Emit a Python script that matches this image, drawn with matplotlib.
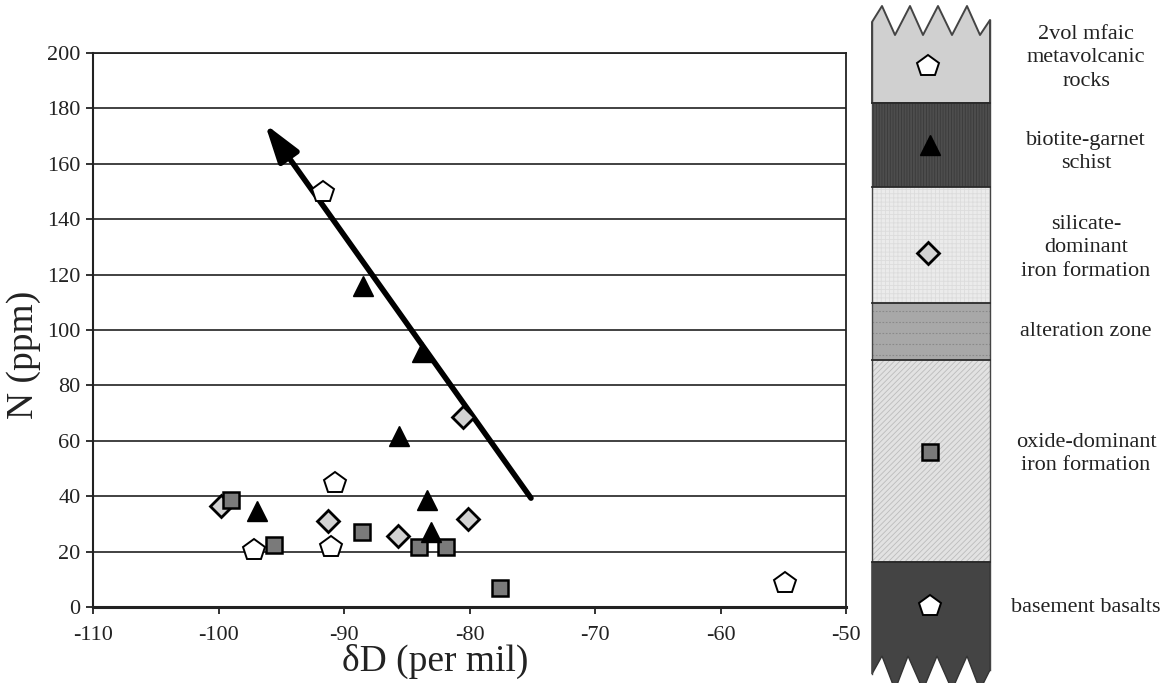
import matplotlib
matplotlib.use("Agg")
import matplotlib.pyplot as plt
from matplotlib.patches import Polygon, Rectangle

plt.rcParams['font.family'] = ['Liberation Serif', 'DejaVu Serif']
plt.rcParams['hatch.linewidth'] = 0.6

# ---------------- data ----------------
metavolc_x = [-91.7, -90.7, -97.2, -91.0]
metavolc_y = [150.0, 44.6, 20.5, 21.5]
basement_x = [-54.9]
basement_y = [8.6]
biotite_x = [-88.5, -83.8, -85.6, -83.4, -96.9, -83.1]
biotite_y = [116.0, 92.0, 61.6, 38.8, 34.7, 27.1]
silicate_x = [-80.5, -99.8, -91.3, -80.1, -85.7]
silicate_y = [68.6, 36.5, 31.0, 31.6, 25.7]
oxide_x = [-99.0, -88.6, -95.6, -84.0, -81.9, -77.6]
oxide_y = [38.8, 26.9, 22.3, 21.7, 21.5, 6.7]
trend_start = (-75.1, 39.3)
trend_end = (-96.3, 174.4)

x_ticks = [-110, -100, -90, -80, -70, -60, -50]
y_ticks = [0, 20, 40, 60, 80, 100, 120, 140, 160, 180, 200]

unit_labels = ["2vol mfaic\nmetavolcanic\nrocks",
               "biotite-garnet\nschist",
               "silicate-\ndominant\niron formation",
               "alteration zone",
               "oxide-dominant\niron formation",
               "basement basalts"]

# ---------------- figure ----------------
W, H = 1174, 683
fig = plt.figure(figsize=(W / 100, H / 100), dpi=100)
ax = fig.add_axes([93 / W, 1 - 607 / H, (846 - 93) / W, (607 - 53) / H])

ax.set_xlim(-110, -50)
ax.set_ylim(0, 200)
ax.set_xticks(x_ticks)
ax.set_yticks(y_ticks)
ax.set_xticklabels([str(v) for v in x_ticks])
ax.set_yticklabels([str(v) for v in y_ticks])
ax.tick_params(axis='both', labelsize=16, colors='#222222', length=5, width=1.3,
               direction='out')
ax.tick_params(axis='x', pad=9)
ax.tick_params(axis='y', pad=4)
for t in y_ticks[1:]:
    ax.axhline(t, color='#333333', lw=1.3, zorder=1)
for side in ['left', 'bottom', 'right', 'top']:
    ax.spines[side].set_color('#222222')
ax.spines['left'].set_linewidth(1.5)
ax.spines['bottom'].set_linewidth(2.2)
ax.spines['right'].set_linewidth(1.3)
ax.spines['top'].set_linewidth(1.3)

ax.set_xlabel("δD (per mil)", fontsize=27, color='#222222')
ax.set_ylabel("N (ppm)", fontsize=27, color='#222222')
ax.xaxis.set_label_coords(0.454, -0.066)
ax.yaxis.set_label_coords(-0.092, 0.455)
ax.yaxis.label.set_va('center')

# trend arrow
ax.annotate('', xy=trend_end, xytext=trend_start,
            arrowprops=dict(arrowstyle='-|>,head_length=1.15,head_width=0.36',
                            lw=4, color='black', mutation_scale=20,
                            shrinkA=0, shrinkB=0), zorder=3)

mk = dict(linestyle='none', markeredgecolor='black', zorder=4)
ax.plot(metavolc_x, metavolc_y, marker='p', ms=16, mfc='white', mew=1.4, **mk)
ax.plot(basement_x, basement_y, marker='p', ms=16, mfc='white', mew=1.4, **mk)
ax.plot(silicate_x, silicate_y, marker='D', ms=11, mfc='#d2d2d2', mew=2.0, **mk)
ax.plot(oxide_x, oxide_y, marker='s', ms=12, mfc='#7a7a7a', mew=1.8, **mk)
ax.plot(biotite_x, biotite_y, marker='^', ms=15, mfc='black', mew=1.0, **mk)

# ---------------- stratigraphic column ----------------
cx = fig.add_axes([0, 0, 1, 1])
cx.set_xlim(0, W)
cx.set_ylim(H, 0)
cx.axis('off')
cx.patch.set_visible(False)

L, R = 872, 990
edge = '#444444'

# top unit with zigzag top
top_poly = [(L, 22), (882, 6), (895, 35), (910, 6), (923, 35), (938, 6),
            (952, 35), (967, 6), (980, 35), (R, 20), (R, 103), (L, 103)]
cx.add_patch(Polygon(top_poly, closed=True, fc='#d0d0d0', ec=edge, lw=1.4,
                     joinstyle='round'))

# biotite schist
cx.add_patch(Rectangle((L, 103), R - L, 84, fc='#4d4d4d', ec='none'))
cx.add_patch(Rectangle((L, 103), R - L, 84, fc='none', ec='#3a3a3a',
                       hatch='||||||', lw=0))
# silicate IF
cx.add_patch(Rectangle((L, 187), R - L, 116, fc='#ebebeb', ec='none'))
cx.add_patch(Rectangle((L, 187), R - L, 116, fc='none', ec='#dcdcdc',
                       hatch='++++', lw=0))
# alteration zone
cx.add_patch(Rectangle((L, 303), R - L, 57, fc='#a8a8a8', ec='none'))
for yy in [311, 322, 333, 344, 355]:
    cx.plot([L, R], [yy, yy], color='#8a8a8a', lw=0.8, ls=(0, (1.5, 1.5)))
# oxide IF
cx.add_patch(Rectangle((L, 360), R - L, 202, fc='#e2e2e2', ec='none'))
cx.add_patch(Rectangle((L, 360), R - L, 202, fc='none', ec='#bcbcbc',
                       hatch='//////', lw=0))
# basement
bot_poly = [(L, 562), (R, 562), (R, 670), (980, 690), (967, 656), (952, 690),
            (937, 656), (923, 690), (908, 656), (895, 690), (882, 656), (L, 674)]
cx.add_patch(Polygon(bot_poly, closed=True, fc='#444444', ec='#333333', lw=1.0))

# outlines and boundaries
cx.plot([L, L], [22, 674], color=edge, lw=1.0)
cx.plot([R, R], [20, 670], color=edge, lw=1.0)
for yy in [103, 187, 303, 360, 562]:
    cx.plot([L, R], [yy, yy], color='#2a2a2a', lw=1.3)

# column symbols
cmk = dict(linestyle='none', markeredgecolor='black')
cx.plot([928], [66], marker='p', ms=16, mfc='white', mew=1.4, **cmk)
cx.plot([930], [145], marker='^', ms=15, mfc='black', mew=1.0, **cmk)
cx.plot([928], [253], marker='D', ms=11, mfc='#d2d2d2', mew=2.0, **cmk)
cx.plot([930], [452], marker='s', ms=12, mfc='#7a7a7a', mew=1.8, **cmk)
cx.plot([930], [606], marker='p', ms=16, mfc='white', mew=1.4, **cmk)

label_y = [58, 152, 248, 332, 454, 607]
for lab, yy in zip(unit_labels, label_y):
    cx.text(1086, yy, lab, fontsize=16, color='#222222', ha='center',
            va='center', linespacing=1.3)

fig.savefig("out.png", dpi=100)
